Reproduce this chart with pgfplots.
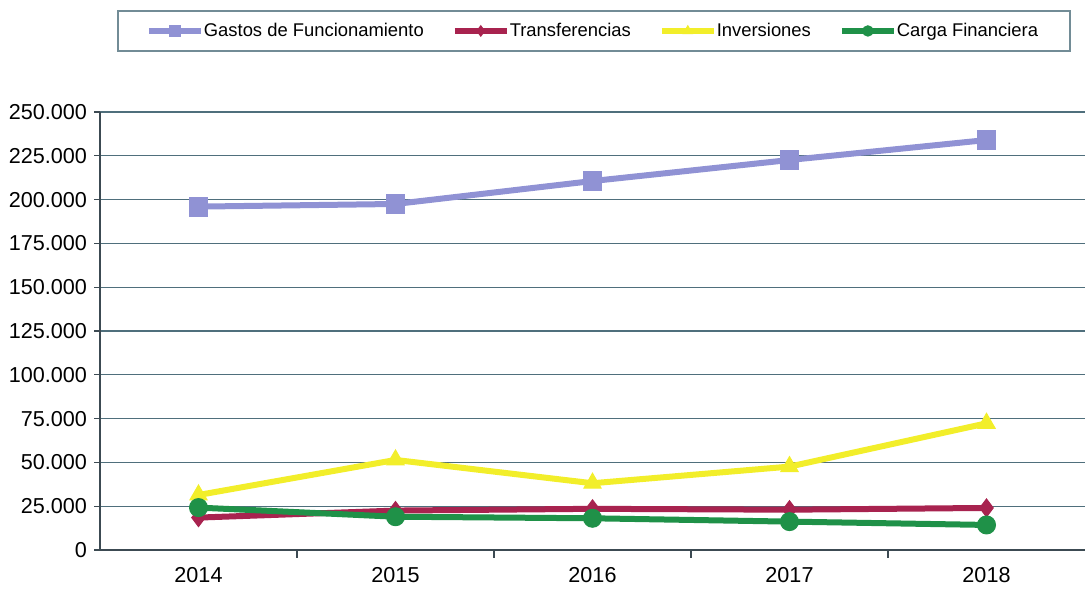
\documentclass[border=0pt]{standalone}
\usepackage{fontspec}
\setmainfont{Liberation Sans}
\usepackage{pgfplots}
\pgfplotsset{compat=1.18}
\definecolor{gastos}{HTML}{9092D4}
\definecolor{transf}{HTML}{A8234F}
\definecolor{invers}{HTML}{F2EE2A}
\definecolor{carga}{HTML}{1F9148}
\definecolor{gridc}{HTML}{4F6F7C}
\definecolor{axisc}{HTML}{3C4A52}
\begin{document}
\begin{tikzpicture}
\path[use as bounding box] (-50pt,-19pt) rectangle (492.5pt,275pt);
\begin{axis}[
  at={(0pt,0pt)}, anchor=south west,
  scale only axis, width=492.5pt, height=219pt,
  xmin=2013.5, xmax=2018.5, ymin=0, ymax=250000,
  axis x line*=bottom, axis y line*=left,
  axis line style={-, draw=axisc, line width=0.8pt},
  xtick={2014,2015,2016,2017,2018},
  xticklabels={2014,2015,2016,2017,2018},
  minor xtick={2014.5,2015.5,2016.5,2017.5},
  major x tick style={draw=none},
  minor tick length=4pt, major tick length=3pt,
  tick align=outside, tick style={draw=axisc, line width=0.6pt},
  ytick={0,25000,...,250000},
  scaled y ticks=false,
  yticklabel style={/pgf/number format/.cd, fixed, precision=0, 1000 sep={.}, assume math mode=true},
  ticklabel style={font=\fontsize{10.8}{12}\selectfont, text=black},
  xticklabel style={yshift=-2pt},
  ymajorgrids, grid style={draw=gridc, line width=0.6pt},
  legend columns=4,
  legend style={at={(0.5015,1.185)}, anchor=center,
    draw=gridc!80, line width=0.8pt, fill=white,
    font=\fontsize{9.2}{11}\selectfont, inner xsep=14pt, inner ysep=4pt,
    /tikz/every odd column/.append style={column sep=-2pt},
    /tikz/every even column/.append style={column sep=12pt}},
  legend cell align=left,
  legend image code/.code={\draw[mark repeat=2, mark phase=2, #1, mark size=2.6pt]
    plot coordinates {(0pt,0pt) (13pt,0pt) (26pt,0pt)};},
  every axis plot/.append style={line width=3pt},
]
\addplot[color=gastos, mark=square*, mark size=4.7pt, mark options={line width=0.5pt}] coordinates {(2014,196000) (2015,197500) (2016,210600) (2017,222600) (2018,234000)};
\addplot[color=transf, mark=diamond*, mark size=4.5pt, mark options={line width=0.5pt}] coordinates {(2014,18500) (2015,22500) (2016,23500) (2017,23000) (2018,24000)};
\addplot[color=invers, mark=triangle*, mark size=5pt, mark options={line width=0.5pt}] coordinates {(2014,31400) (2015,51400) (2016,38100) (2017,47600) (2018,72300)};
\addplot[color=carga, mark=*, mark size=4.5pt, mark options={line width=0.5pt}] coordinates {(2014,24200) (2015,19000) (2016,18100) (2017,16200) (2018,14300)};
\legend{Gastos de Funcionamiento, Transferencias, Inversiones, Carga Financiera}
\end{axis}
\end{tikzpicture}
\end{document}
